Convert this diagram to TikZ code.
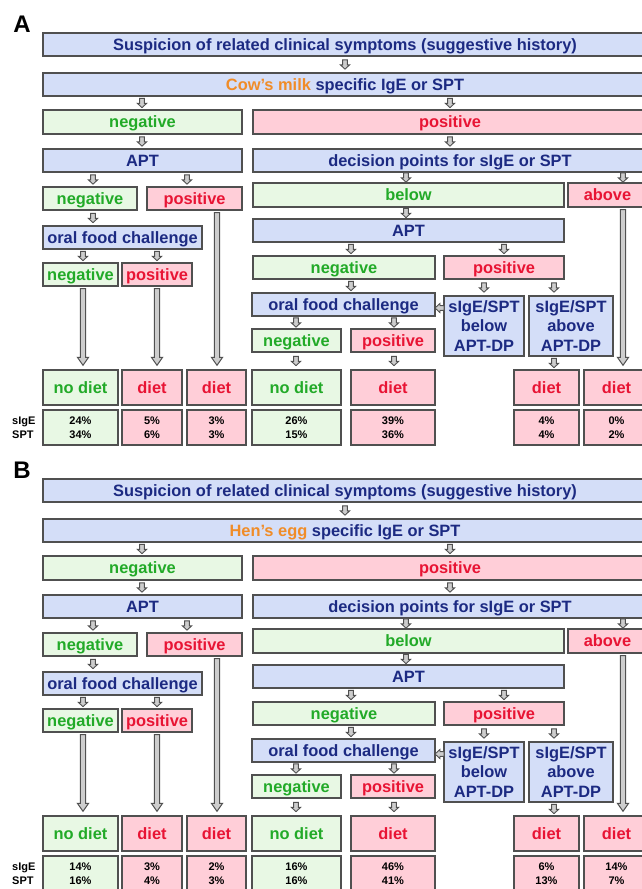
\documentclass[tikz,border=0pt]{standalone}
\usepackage{fontspec}
\setmainfont{Liberation Sans}
\usetikzlibrary{calc}
\definecolor{bfill}{RGB}{212,222,248}
\definecolor{gfill}{RGB}{232,248,228}
\definecolor{pfill}{RGB}{255,206,216}
\definecolor{navy}{RGB}{28,42,130}
\definecolor{gtext}{RGB}{34,170,40}
\definecolor{rtext}{RGB}{232,20,52}
\definecolor{otext}{RGB}{240,140,40}
\definecolor{bord}{RGB}{80,80,80}
\definecolor{afill}{RGB}{205,205,205}
\tikzset{
 box/.style={draw=bord, line width=1.4pt, inner sep=0pt, font=\bfseries\fontsize{16.4}{19.5}\selectfont},
 one/.style={text height=12.5pt, text depth=1.5pt},
 bluebox/.style={box, fill=bfill, text=navy},
 greenbox/.style={box, fill=gfill, text=gtext},
 pinkbox/.style={box, fill=pfill, text=rtext},
 pct/.style={font=\bfseries\fontsize{11}{13.5}\selectfont, text=black, align=center},
 sarrow/.style={draw=bord, fill=afill, line width=0.9pt, line join=miter},
 larrow/.style={draw=bord, fill=afill, line width=1pt, line join=miter},
 lab/.style={font=\bfseries\fontsize{24}{24}\selectfont, inner sep=0pt},
 sidelab/.style={font=\bfseries\fontsize{11}{13.5}\selectfont, align=left, inner sep=0pt, anchor=west},
}
% box: style, name, x1, y1, x2, y2, text
\newcommand\bx[7]{\node[#1, minimum width={#5-#3}, minimum height={#6-#4}] (#2) at ({(#3+#5)/2},{\oy+(#4+#6)/2}) {#7};}
% small block arrow: x, parent, child
\newcommand\barr[3]{\path[sarrow] let \p1=(#2.south), \p2=(#3.north), \n1={(\y1+\y2)/2} in
 ({(#1-2.4)*1pt},{(\n1+4.6)*1pt}) -- ({(#1+2.4)*1pt},{(\n1+4.6)*1pt}) -- ({(#1+2.4)*1pt},{(\n1-0.4)*1pt}) -- ({(#1+4.6)*1pt},{(\n1-0.4)*1pt}) -- ({#1*1pt},{(\n1-4.6)*1pt}) -- ({(#1-4.6)*1pt},{(\n1-0.4)*1pt}) -- ({(#1-2.4)*1pt},{(\n1-0.4)*1pt}) -- cycle;}
% long block arrow: x, parent, child
\newcommand\larr[3]{\path[larrow] let \p1=(#2.south), \p2=(#3.north) in
 ({(#1-2.6)*1pt},{\y1-2pt}) -- ({(#1+2.6)*1pt},{\y1-2pt}) -- ({(#1+2.6)*1pt},{\y2+12pt}) -- ({(#1+5.6)*1pt},{\y2+12pt}) -- ({#1*1pt},{\y2+4pt}) -- ({(#1-5.6)*1pt},{\y2+12pt}) -- ({(#1-2.6)*1pt},{\y2+12pt}) -- cycle;}
% horizontal small arrow pointing left: from, to
\newcommand\harr[2]{\path[sarrow] let \p1=(#1.west), \p2=(#2.east), \n1={(\x1+\x2)/2}, \n2={\y2-3.5pt} in
 ({(\n1+4.5)*1pt},{(\n2+2.4)*1pt}) -- ({(\n1+0.5)*1pt},{(\n2+2.4)*1pt}) -- ({(\n1+0.5)*1pt},{(\n2+4.6)*1pt}) -- ({(\n1-4.5)*1pt},{\n2*1pt}) -- ({(\n1+0.5)*1pt},{(\n2-4.6)*1pt}) -- ({(\n1+0.5)*1pt},{(\n2-2.4)*1pt}) -- ({(\n1+4.5)*1pt},{(\n2-2.4)*1pt}) -- cycle;}
\newcommand\drawpanel[9]{%
 \node[lab] (#1-lab) at (22,{\oy+24}) {#1};
 \bx{bluebox,one}{#1-sus}{43}{33}{647}{56}{Suspicion of related clinical symptoms (suggestive history)}
 \bx{bluebox,one}{#1-ige}{43}{73}{647}{96}{\textcolor{otext}{#2} specific IgE or SPT}
 \bx{greenbox,one}{#1-neg1}{43}{110}{242}{134}{negative}
 \bx{pinkbox,one}{#1-pos1}{253}{110}{647}{134}{positive}
 \bx{bluebox,one}{#1-apt1}{43}{149}{242}{172}{APT}
 \bx{bluebox,one}{#1-dp}{253}{149}{647}{172}{decision points for sIgE or SPT}
 \bx{greenbox,one}{#1-neg2}{43}{187}{137}{210}{negative}
 \bx{pinkbox,one}{#1-pos2}{147}{187}{242}{210}{positive}
 \bx{greenbox,one}{#1-below}{253}{183}{564}{207}{below}
 \bx{pinkbox,one}{#1-above}{568}{183}{647}{207}{above}
 \bx{bluebox,one}{#1-ofc1}{43}{226}{202}{249}{oral food challenge}
 \bx{bluebox,one}{#1-apt2}{253}{219}{564}{242}{APT}
 \bx{greenbox,one}{#1-neg3}{43}{263}{118}{286}{negative}
 \bx{pinkbox,one}{#1-pos3}{122}{263}{192}{286}{positive}
 \bx{greenbox,one}{#1-neg4}{253}{256}{435}{279}{negative}
 \bx{pinkbox,one}{#1-pos4}{444}{256}{564}{279}{positive}
 \bx{bluebox,one}{#1-ofc2}{252}{293}{435}{316}{oral food challenge}
 \bx{bluebox,align=center}{#1-bdp}{444}{296}{524}{356}{sIgE/SPT\\below\\APT-DP}
 \bx{bluebox,align=center}{#1-adp}{529}{296}{613}{356}{sIgE/SPT\\above\\APT-DP}
 \bx{greenbox,one}{#1-neg5}{252}{329}{341}{352}{negative}
 \bx{pinkbox,one}{#1-pos5}{351}{329}{435}{352}{positive}
 \bx{greenbox,one}{#1-o1}{43}{370}{118}{405}{no diet}
 \bx{pinkbox,one}{#1-o2}{122}{370}{182}{405}{diet}
 \bx{pinkbox,one}{#1-o3}{187}{370}{246}{405}{diet}
 \bx{greenbox,one}{#1-o4}{252}{370}{341}{405}{no diet}
 \bx{pinkbox,one}{#1-o5}{351}{370}{435}{405}{diet}
 \bx{pinkbox,one}{#1-o6}{514}{370}{579}{405}{diet}
 \bx{pinkbox,one}{#1-o7}{584}{370}{649}{405}{diet}
 \bx{greenbox,pct}{#1-p1}{43}{410}{118}{445}{#3}
 \bx{pinkbox,pct}{#1-p2}{122}{410}{182}{445}{#4}
 \bx{pinkbox,pct}{#1-p3}{187}{410}{246}{445}{#5}
 \bx{greenbox,pct}{#1-p4}{252}{410}{341}{445}{#6}
 \bx{pinkbox,pct}{#1-p5}{351}{410}{435}{445}{#7}
 \bx{pinkbox,pct}{#1-p6}{514}{410}{579}{445}{#8}
 \bx{pinkbox,pct}{#1-p7}{584}{410}{649}{445}{#9}
 \node[sidelab] (#1-side) at (12,{\oy+428}) {sIgE\\SPT};
 \barr{345}{#1-sus}{#1-ige}
 \barr{142}{#1-ige}{#1-neg1}
 \barr{450}{#1-ige}{#1-pos1}
 \barr{142}{#1-neg1}{#1-apt1}
 \barr{450}{#1-pos1}{#1-dp}
 \barr{93}{#1-apt1}{#1-neg2}
 \barr{187}{#1-apt1}{#1-pos2}
 \barr{406}{#1-dp}{#1-below}
 \barr{623}{#1-dp}{#1-above}
 \barr{93}{#1-neg2}{#1-ofc1}
 \barr{406}{#1-below}{#1-apt2}
 \barr{83}{#1-ofc1}{#1-neg3}
 \barr{157}{#1-ofc1}{#1-pos3}
 \barr{351}{#1-apt2}{#1-neg4}
 \barr{504}{#1-apt2}{#1-pos4}
 \barr{351}{#1-neg4}{#1-ofc2}
 \barr{484}{#1-pos4}{#1-bdp}
 \barr{554}{#1-pos4}{#1-adp}
 \barr{296}{#1-ofc2}{#1-neg5}
 \barr{394}{#1-ofc2}{#1-pos5}
 \barr{296}{#1-neg5}{#1-o4}
 \barr{394}{#1-pos5}{#1-o5}
 \barr{554}{#1-adp}{#1-o6}
 \larr{83}{#1-neg3}{#1-o1}
 \larr{157}{#1-pos3}{#1-o2}
 \larr{217}{#1-pos2}{#1-o3}
 \larr{623}{#1-above}{#1-o7}
 \harr{#1-bdp}{#1-ofc2}
}
\begin{document}
\begin{tikzpicture}[x=1pt,y=-1pt]
\useasboundingbox[fill=white] (0,0) rectangle (641,889);
\def\oy{0}
\drawpanel{A}{Cow’s milk}{24\%\\34\%}{5\%\\6\%}{3\%\\3\%}{26\%\\15\%}{39\%\\36\%}{4\%\\4\%}{0\%\\2\%}
\def\oy{446}
\drawpanel{B}{Hen’s egg}{14\%\\16\%}{3\%\\4\%}{2\%\\3\%}{16\%\\16\%}{46\%\\41\%}{6\%\\13\%}{14\%\\7\%}
\end{tikzpicture}
\end{document}
